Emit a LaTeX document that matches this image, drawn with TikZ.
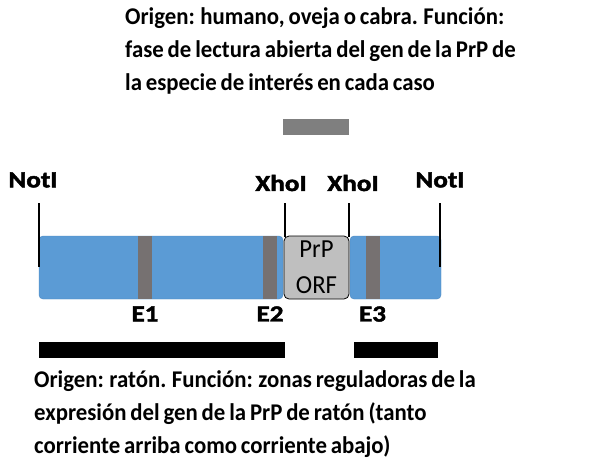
\documentclass[tikz,border=0pt]{standalone}
\usepackage{fontspec}
\setmainfont{Carlito}[WordSpace=0.75, FakeStretch=0.95]
\newfontfamily\heavyfont{Carlito}[FakeStretch=1.18, BoldFeatures={FakeBold=2}]
\usetikzlibrary{positioning}
\definecolor{genblue}{HTML}{5B9BD5}
\definecolor{genedge}{HTML}{4A86BF}
\definecolor{exongray}{HTML}{767171}
\definecolor{orfgray}{HTML}{BFBFBF}
\definecolor{topgray}{HTML}{7F7F7F}

\begin{document}
\begin{tikzpicture}[x=1pt,y=-1pt,
	blueseg/.style={draw=genedge, fill=genblue, rounded corners=4pt, minimum height=63pt, inner sep=0pt},
	exon/.style={fill=exongray, minimum width=14pt, minimum height=63pt, inner sep=0pt},
	site/.style={font=\fontsize{23}{26}\heavyfont\bfseries, inner sep=0pt},
	expl/.style={font=\fontsize{24}{33}\selectfont\bfseries, align=left, anchor=north west, inner sep=0pt},
	bar/.style={fill=black, minimum height=16pt, inner sep=0pt}]
	\useasboundingbox (0,0) rectangle (614,459);
	
	% text for the inserted ORF
	\node[expl] (toptext) at (125,7) {Origen: humano, oveja o cabra. Función:\\fase de lectura abierta del gen de la PrP de\\la especie de interés en cada caso};
	\node[fill=topgray, minimum width=66pt, minimum height=16pt, inner sep=0pt] (topbar) at (316,127) {};
	
	% construct
	\node[blueseg, minimum width=244pt] (up) at (161,267.5) {};
	\node[blueseg, minimum width=91pt] (down) at (395.5,267.5) {};
	\node[draw=black, thick, fill=orfgray, rounded corners=5pt, minimum width=65pt, minimum height=63pt, inner sep=0pt,
		align=center, font=\fontsize{26}{36}\selectfont] (orf) at (316.5,267.5) {PrP\\ORF};
	\node[exon] (e1) at (145,267.5) {};
	\node[exon] (e2) at (270,267.5) {};
	\node[exon] (e3) at (372.5,267.5) {};
	\node[site, below=7pt of e1] {E1};
	\node[site, below=7pt of e2] {E2};
	\node[site, below=7pt of e3] {E3};
	
	% restriction sites
	\coordinate (n1a) at (39,203); \coordinate (n1b) at (39,267);
	\coordinate (x1a) at (285,203); \coordinate (x1b) at (285,237);
	\coordinate (x2a) at (349,203); \coordinate (x2b) at (349,237);
	\coordinate (n2a) at (440,203); \coordinate (n2b) at (440,267);
	\draw[black, line width=1.5pt] (n1a)--(n1b) (x1a)--(x1b) (x2a)--(x2b) (n2a)--(n2b);
	\node[site] (not1) at (33,180) {NotI};
	\node[site] (xho1) at (281,183) {XhoI};
	\node[site] (xho2) at (353,183) {XhoI};
	\node[site] (not2) at (440,180) {NotI};
	
	% mouse regions
	\node[bar, minimum width=246pt] (bar1) at (162,350) {};
	\node[bar, minimum width=84pt] (bar2) at (396,350) {};
	\node[expl] (bottext) at (34,370) {Origen: ratón. Función: zonas reguladoras de la\\expresión del gen de la PrP de ratón (tanto\\corriente arriba como corriente abajo)};
\end{tikzpicture}
\end{document}
